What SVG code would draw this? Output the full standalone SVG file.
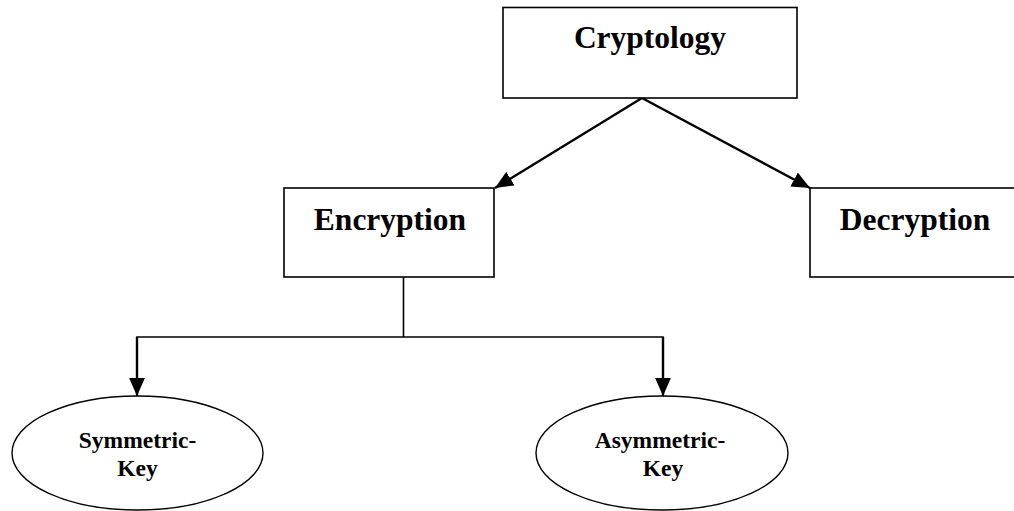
<svg xmlns="http://www.w3.org/2000/svg" width="1014" height="511" viewBox="0 0 1014 511">
  <style>
    .box { fill: #ffffff; stroke: #000000; stroke-width: 1.6; }
    .oval { fill: #ffffff; stroke: #000000; stroke-width: 1.4; }
    .big { font-family: "Liberation Serif", "Times New Roman", serif; font-weight: bold; font-size: 31.5px; fill: #000000; text-anchor: middle; }
    .small { font-family: "Liberation Serif", "Times New Roman", serif; font-weight: bold; font-size: 23.5px; fill: #000000; text-anchor: middle; }
    .edge { fill: none; stroke: #000000; stroke-width: 2.4; }
    .trunk { fill: none; stroke: #000000; stroke-width: 1.6; }
  </style>
  <defs>
    <marker id="head" markerUnits="userSpaceOnUse" markerWidth="18" markerHeight="16" refX="16" refY="7" orient="auto" viewBox="0 0 16 14">
      <path d="M0,0 L16,7 L0,14 Z" fill="#000000"/>
    </marker>
  </defs>
  <rect width="1014" height="511" fill="#ffffff"/>

  <g id="connectors">
    <line class="edge" x1="642" y1="98" x2="495" y2="188" marker-end="url(#head)"/>
    <line class="edge" x1="642" y1="98" x2="810" y2="188" marker-end="url(#head)"/>
    <line class="trunk" x1="403.5" y1="277" x2="403.5" y2="337"/>
    <polyline class="trunk" points="137,395 137,337 663,337 663,395"/>
    <line class="edge" x1="137" y1="337" x2="137" y2="396" marker-end="url(#head)"/>
    <line class="edge" x1="663" y1="337" x2="663" y2="396" marker-end="url(#head)"/>
  </g>

  <g id="cryptology">
    <rect class="box" x="503" y="7.5" width="294" height="90.5"/>
    <text class="big" x="650" y="48">Cryptology</text>
  </g>

  <g id="encryption">
    <rect class="box" x="284" y="188" width="210" height="89"/>
    <text class="big" x="390" y="230">Encryption</text>
  </g>

  <g id="decryption">
    <rect class="box" x="810" y="188" width="212" height="89"/>
    <text class="big" x="915" y="230">Decryption</text>
  </g>

  <g id="symmetric-key">
    <ellipse class="oval" cx="137.5" cy="453" rx="125.5" ry="57"/>
    <text class="small" x="137.5" y="448">Symmetric-</text>
    <text class="small" x="137.5" y="476">Key</text>
  </g>

  <g id="asymmetric-key">
    <ellipse class="oval" cx="662" cy="453" rx="126" ry="57"/>
    <text class="small" x="660" y="448">Asymmetric-</text>
    <text class="small" x="663" y="476">Key</text>
  </g>
</svg>
